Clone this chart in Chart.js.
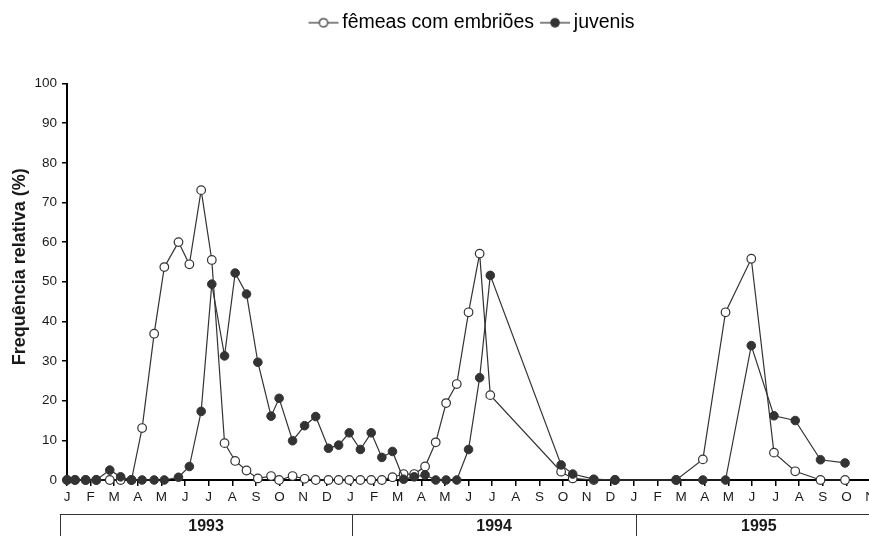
<!DOCTYPE html>
<html>
<head>
<meta charset="utf-8">
<script src="https://cdn.jsdelivr.net/npm/chart.js@4.4.0/dist/chart.umd.min.js"></script>
<style>
  html, body { margin: 0; padding: 0; background: #fff; overflow: hidden; }
  #wrap { width: 937px; height: 536px; }
</style>
</head>
<body>
<div id="wrap"><canvas id="chart"></canvas></div>
<script>
// sample dates, in months counted from January 1993
const sampleMonths = [0, 0.34, 0.79, 1.24, 1.81, 2.27, 2.73, 3.18, 3.69, 4.12,
  4.72, 5.18, 5.68, 6.13, 6.67, 7.12, 7.6, 8.08, 8.64, 8.98,
  9.55, 10.06, 10.53, 11.07, 11.5, 11.95, 12.42, 12.88, 13.33, 13.78,
  14.25, 14.7, 15.16, 15.61, 16.05, 16.5, 17.0, 17.47, 17.92, 20.92,
  21.41, 22.3, 23.2, 25.79, 26.92, 27.88, 28.97, 29.93, 30.83, 31.9,
  32.94];

const femeas = [0, 0, 0, 0, 0, 0, 0, 13.1, 36.9, 53.7,
  60.0, 54.4, 73.1, 55.5, 9.3, 4.8, 2.4, 0.4, 1.0, 0,
  1.0, 0.3, 0, 0, 0, 0, 0, 0, 0, 0.7,
  1.5, 1.5, 3.4, 9.5, 19.4, 24.2, 42.3, 57.1, 21.4, 2.1,
  0.4, 0, 0, 0, 5.2, 42.3, 55.8, 6.9, 2.2, 0,
  0];

const juvenis = [0, 0, 0, 0, 2.5, 0.8, 0, 0, 0, 0,
  0.7, 3.4, 17.3, 49.4, 31.3, 52.2, 46.9, 29.7, 16.1, 20.6,
  9.9, 13.7, 16.0, 8.0, 8.8, 11.9, 7.7, 11.9, 5.7, 7.2,
  0.2, 0.8, 1.3, 0, 0, 0, 7.7, 25.8, 51.6, 3.8,
  1.5, 0.2, 0, 0, 0, 0, 33.9, 16.2, 15.0, 5.1,
  4.3];

const monthLetters = ['J', 'F', 'M', 'A', 'M', 'J', 'J', 'A', 'S', 'O', 'N', 'D'];
const years = ['1993', '1994', '1995'];
const yearBounds = [-0.3, 12.08, 24.08, 34.5];

const ink = '#333';
const textColor = '#1a1a1a';
const family = '"Liberation Sans", Arial, Helvetica, sans-serif';

const toPoints = (ys) => sampleMonths.map((m, i) => ({ x: m, y: ys[i] }));

// little "line + circle" markers for the legend
function legendMarker(filled) {
  const c = document.createElement('canvas');
  c.width = 48;
  c.height = 12;
  const g = c.getContext('2d');
  g.strokeStyle = ink;
  g.lineWidth = 1.2;
  g.beginPath();
  g.moveTo(15, 6);
  g.lineTo(45, 6);
  g.stroke();
  g.beginPath();
  g.arc(30, 6, 4.2, 0, Math.PI * 2);
  g.fillStyle = filled ? ink : '#fff';
  g.fill();
  g.stroke();
  return c;
}
const legendMarkers = [legendMarker(false), legendMarker(true)];

// extra room under the legend
const legendGap = {
  id: 'legendGap',
  beforeInit(chart) {
    const fit = chart.legend.fit;
    chart.legend.fit = function () {
      fit.call(this);
      this.height += 41;
    };
  }
};

// the year row under the month letters
const yearRow = {
  id: 'yearRow',
  afterDraw(chart) {
    const { ctx } = chart;
    const x = chart.scales.x;
    const top = x.top + 34.5;
    ctx.save();
    ctx.strokeStyle = ink;
    ctx.lineWidth = 1;
    ctx.beginPath();
    ctx.moveTo(x.getPixelForValue(yearBounds[0]), top);
    ctx.lineTo(x.getPixelForValue(yearBounds[yearBounds.length - 1]), top);
    yearBounds.slice(0, -1).forEach((b) => {
      const px = Math.round(x.getPixelForValue(b)) + 0.5;
      ctx.moveTo(px, top);
      ctx.lineTo(px, chart.height);
    });
    ctx.stroke();
    ctx.font = 'bold 16px ' + family;
    ctx.fillStyle = textColor;
    ctx.textAlign = 'center';
    ctx.textBaseline = 'middle';
    years.forEach((yr, i) => {
      const mid = (yearBounds[i] + yearBounds[i + 1]) / 2;
      ctx.fillText(yr, x.getPixelForValue(mid), top + 12);
    });
    ctx.restore();
  }
};

const ctx = document.getElementById('chart');

new Chart(ctx, {
  type: 'line',
  data: {
    datasets: [
      {
        label: 'fêmeas com embriões',
        data: toPoints(femeas),
        borderColor: ink,
        borderWidth: 1.2,
        pointRadius: 4.3,
        pointBackgroundColor: '#fff',
        pointBorderColor: ink,
        pointBorderWidth: 1.2,
        clip: false,
        order: 1,
      },
      {
        label: 'juvenis',
        data: toPoints(juvenis),
        borderColor: ink,
        borderWidth: 1.2,
        pointRadius: 4.3,
        pointBackgroundColor: ink,
        pointBorderColor: ink,
        pointBorderWidth: 1,
        clip: false,
        order: 0,
      },
    ],
  },
  options: {
    responsive: true,
    maintainAspectRatio: false,
    animation: false,
    layout: { padding: { top: 13, left: 0, right: 0, bottom: 0 } },
    plugins: {
      tooltip: { enabled: false },
      legend: {
        position: 'top',
        labels: {
          usePointStyle: true,
          pointStyleWidth: 30,
          padding: 0,
          color: textColor,
          font: { family: family, size: 19.5 },
          generateLabels: (chart) => chart.data.datasets.map((ds, i) => ({
            text: ds.label,
            pointStyle: legendMarkers[i],
            fillStyle: '#fff',
            strokeStyle: '#fff',
            lineWidth: 0,
            hidden: false,
            datasetIndex: i,
          })),
        },
      },
    },
    scales: {
      x: {
        type: 'linear',
        min: 0,
        max: 36.6,
        afterFit: (scale) => { scale.height = 56; },
        border: { color: '#000', width: 2 },
        grid: { drawOnChartArea: false, tickLength: 6, color: '#000', lineWidth: 1.5 },
        ticks: {
          stepSize: 1,
          autoSkip: false,
          maxRotation: 0,
          padding: 3,
          color: textColor,
          font: { family: family, size: 13.5 },
          callback: (v) => Number.isInteger(v) ? monthLetters[((v % 12) + 12) % 12] : '',
        },
      },
      y: {
        min: 0,
        max: 100,
        afterFit: (scale) => { scale.width = 67; },
        border: { color: '#000', width: 2 },
        grid: { drawOnChartArea: false, tickLength: 5, color: '#000', lineWidth: 1.5 },
        ticks: {
          stepSize: 10,
          padding: 5,
          color: textColor,
          font: { family: family, size: 13.5 },
        },
        title: {
          display: true,
          text: '      Frequência relativa (%)',
          color: textColor,
          font: { family: family, size: 18, weight: 'bold' },
          padding: { top: 9, bottom: 0 },
        },
      },
    },
  },
  plugins: [legendGap, yearRow],
});
</script>
</body>
</html>
